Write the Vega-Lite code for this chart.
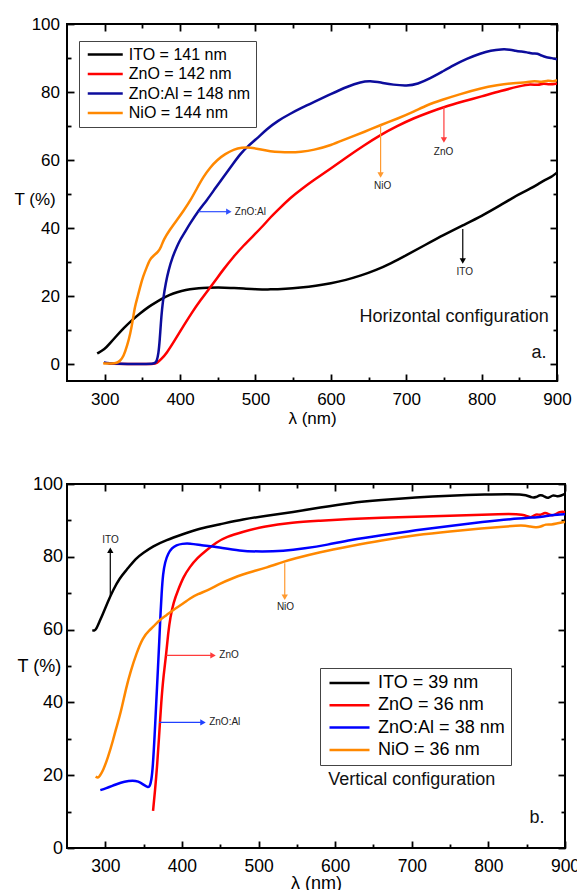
{
  "$schema": "https://vega.github.io/schema/vega-lite/v6.json",
  "padding": {"left": 13, "top": 14, "right": 5, "bottom": 5},
  "spacing": 47,
  "align": "none",
  "config": {
    "font": "Liberation Sans",
    "view": {"stroke": "#000", "strokeWidth": 2},
    "axis": {"grid": false, "domain": false, "tickColor": "#000", "tickWidth": 1.8, "labelColor": "#000", "titleColor": "#000", "labelFont": "Liberation Sans", "titleFont": "Liberation Sans", "titleFontWeight": "normal", "labelOverlap": false, "labelFlush": false}
  },
  "resolve": {"scale": {"color": "independent", "shape": "independent"}, "legend": {"color": "independent"}},
  "datasets": {
    "a": [
      {"m":"ITO","x":290,"y":3.1},{"m":"ITO","x":300,"y":4.3},{"m":"ITO","x":307,"y":6.1},{"m":"ITO","x":315,"y":8.1},{"m":"ITO","x":325,"y":10.5},{"m":"ITO","x":335,"y":12.7},{"m":"ITO","x":347,"y":14.9},{"m":"ITO","x":358,"y":16.8},{"m":"ITO","x":369,"y":18.3},{"m":"ITO","x":380,"y":19.7},{"m":"ITO","x":391,"y":20.8},{"m":"ITO","x":402,"y":21.5},{"m":"ITO","x":413,"y":22},{"m":"ITO","x":425,"y":22.3},{"m":"ITO","x":436,"y":22.4},{"m":"ITO","x":450,"y":22.5},{"m":"ITO","x":467,"y":22.4},{"m":"ITO","x":485,"y":22.2},{"m":"ITO","x":500,"y":22},{"m":"ITO","x":520,"y":21.9},{"m":"ITO","x":540,"y":22.1},{"m":"ITO","x":560,"y":22.5},{"m":"ITO","x":580,"y":23},{"m":"ITO","x":600,"y":23.7},{"m":"ITO","x":620,"y":24.7},{"m":"ITO","x":640,"y":26},{"m":"ITO","x":660,"y":27.6},{"m":"ITO","x":680,"y":29.6},{"m":"ITO","x":700,"y":32},{"m":"ITO","x":725,"y":35},{"m":"ITO","x":750,"y":38},{"m":"ITO","x":775,"y":40.8},{"m":"ITO","x":800,"y":43.5},{"m":"ITO","x":825,"y":46.7},{"m":"ITO","x":850,"y":50},{"m":"ITO","x":865,"y":51.6},{"m":"ITO","x":875,"y":52.9},{"m":"ITO","x":885,"y":54.3},{"m":"ITO","x":892,"y":54.9},{"m":"ITO","x":900,"y":56.3},
      {"m":"ZnO","x":305,"y":0.1},{"m":"ZnO","x":340,"y":0},{"m":"ZnO","x":366,"y":0},{"m":"ZnO","x":369,"y":0.2},{"m":"ZnO","x":375,"y":1.4},{"m":"ZnO","x":382,"y":3.1},{"m":"ZnO","x":393,"y":7},{"m":"ZnO","x":404,"y":11},{"m":"ZnO","x":415,"y":14.9},{"m":"ZnO","x":427,"y":18.8},{"m":"ZnO","x":444,"y":23.7},{"m":"ZnO","x":457,"y":27.7},{"m":"ZnO","x":471,"y":31.6},{"m":"ZnO","x":484,"y":34.8},{"m":"ZnO","x":498,"y":37.9},{"m":"ZnO","x":510,"y":40.6},{"m":"ZnO","x":520,"y":43.2},{"m":"ZnO","x":533,"y":46},{"m":"ZnO","x":546,"y":48.8},{"m":"ZnO","x":560,"y":51.3},{"m":"ZnO","x":580,"y":54.5},{"m":"ZnO","x":600,"y":57.5},{"m":"ZnO","x":622,"y":61},{"m":"ZnO","x":644,"y":64.3},{"m":"ZnO","x":666,"y":67.4},{"m":"ZnO","x":688,"y":70},{"m":"ZnO","x":710,"y":72.3},{"m":"ZnO","x":730,"y":74},{"m":"ZnO","x":750,"y":75.6},{"m":"ZnO","x":775,"y":77.2},{"m":"ZnO","x":800,"y":78.7},{"m":"ZnO","x":825,"y":80.3},{"m":"ZnO","x":852,"y":81.8},{"m":"ZnO","x":865,"y":82.4},{"m":"ZnO","x":875,"y":81.9},{"m":"ZnO","x":882,"y":82.6},{"m":"ZnO","x":890,"y":82.1},{"m":"ZnO","x":900,"y":82.5},
      {"m":"ZnO:Al","x":299,"y":0.5},{"m":"ZnO:Al","x":302,"y":0.3},{"m":"ZnO:Al","x":310,"y":0.1},{"m":"ZnO:Al","x":330,"y":0},{"m":"ZnO:Al","x":350,"y":0},{"m":"ZnO:Al","x":367,"y":0},{"m":"ZnO:Al","x":369,"y":0.8},{"m":"ZnO:Al","x":371.4,"y":3.1},{"m":"ZnO:Al","x":373,"y":7},{"m":"ZnO:Al","x":374.5,"y":12},{"m":"ZnO:Al","x":376,"y":16},{"m":"ZnO:Al","x":378,"y":19.8},{"m":"ZnO:Al","x":381,"y":23.8},{"m":"ZnO:Al","x":384.7,"y":27.6},{"m":"ZnO:Al","x":390,"y":31.5},{"m":"ZnO:Al","x":395.8,"y":34.5},{"m":"ZnO:Al","x":400,"y":36.5},{"m":"ZnO:Al","x":405,"y":38.3},{"m":"ZnO:Al","x":413.5,"y":41.4},{"m":"ZnO:Al","x":424,"y":45},{"m":"ZnO:Al","x":435.7,"y":48.2},{"m":"ZnO:Al","x":447,"y":51.8},{"m":"ZnO:Al","x":457.8,"y":55.1},{"m":"ZnO:Al","x":470,"y":58.8},{"m":"ZnO:Al","x":480,"y":61.8},{"m":"ZnO:Al","x":489,"y":63.9},{"m":"ZnO:Al","x":502,"y":66.3},{"m":"ZnO:Al","x":515,"y":69.1},{"m":"ZnO:Al","x":530,"y":71.6},{"m":"ZnO:Al","x":546,"y":73.6},{"m":"ZnO:Al","x":560,"y":75.2},{"m":"ZnO:Al","x":577,"y":77},{"m":"ZnO:Al","x":600,"y":79.4},{"m":"ZnO:Al","x":622,"y":81.6},{"m":"ZnO:Al","x":640,"y":83},{"m":"ZnO:Al","x":652,"y":83.3},{"m":"ZnO:Al","x":666,"y":82.8},{"m":"ZnO:Al","x":683,"y":82.1},{"m":"ZnO:Al","x":701,"y":81.8},{"m":"ZnO:Al","x":715,"y":82.3},{"m":"ZnO:Al","x":732,"y":84},{"m":"ZnO:Al","x":748,"y":86},{"m":"ZnO:Al","x":763,"y":87.9},{"m":"ZnO:Al","x":780,"y":89.8},{"m":"ZnO:Al","x":799,"y":91.4},{"m":"ZnO:Al","x":812,"y":92.2},{"m":"ZnO:Al","x":826,"y":92.6},{"m":"ZnO:Al","x":838,"y":92.5},{"m":"ZnO:Al","x":845,"y":92.1},{"m":"ZnO:Al","x":852,"y":91.9},{"m":"ZnO:Al","x":860,"y":91.7},{"m":"ZnO:Al","x":868,"y":91.2},{"m":"ZnO:Al","x":874,"y":91.4},{"m":"ZnO:Al","x":880,"y":90.6},{"m":"ZnO:Al","x":886,"y":90.2},{"m":"ZnO:Al","x":893,"y":90},{"m":"ZnO:Al","x":900,"y":89.6},
      {"m":"NiO","x":298,"y":0.2},{"m":"NiO","x":310,"y":0.1},{"m":"NiO","x":316,"y":0.3},{"m":"NiO","x":320,"y":0.8},{"m":"NiO","x":325,"y":2.2},{"m":"NiO","x":330,"y":5.5},{"m":"NiO","x":334,"y":9},{"m":"NiO","x":337,"y":12.5},{"m":"NiO","x":340,"y":16.9},{"m":"NiO","x":344,"y":20},{"m":"NiO","x":347,"y":22.7},{"m":"NiO","x":351,"y":25.8},{"m":"NiO","x":356,"y":28.6},{"m":"NiO","x":360,"y":30.8},{"m":"NiO","x":365,"y":31.9},{"m":"NiO","x":371,"y":33},{"m":"NiO","x":375,"y":34.5},{"m":"NiO","x":378,"y":36.5},{"m":"NiO","x":386,"y":39.4},{"m":"NiO","x":396,"y":42.4},{"m":"NiO","x":405,"y":45.2},{"m":"NiO","x":414,"y":48.2},{"m":"NiO","x":422,"y":51.5},{"m":"NiO","x":431,"y":55.1},{"m":"NiO","x":440,"y":57.8},{"m":"NiO","x":449,"y":60},{"m":"NiO","x":460,"y":61.8},{"m":"NiO","x":471,"y":63.1},{"m":"NiO","x":482,"y":63.7},{"m":"NiO","x":493,"y":63.7},{"m":"NiO","x":505,"y":63.2},{"m":"NiO","x":520,"y":62.5},{"m":"NiO","x":533,"y":62.3},{"m":"NiO","x":546,"y":62.2},{"m":"NiO","x":560,"y":62.4},{"m":"NiO","x":577,"y":62.9},{"m":"NiO","x":600,"y":64.3},{"m":"NiO","x":622,"y":66.4},{"m":"NiO","x":645,"y":68.3},{"m":"NiO","x":666,"y":70.3},{"m":"NiO","x":690,"y":72.3},{"m":"NiO","x":710,"y":74.2},{"m":"NiO","x":728,"y":76.2},{"m":"NiO","x":746,"y":77.6},{"m":"NiO","x":770,"y":79.3},{"m":"NiO","x":799,"y":81.1},{"m":"NiO","x":820,"y":82},{"m":"NiO","x":843,"y":82.7},{"m":"NiO","x":860,"y":82.8},{"m":"NiO","x":870,"y":83.3},{"m":"NiO","x":880,"y":82.8},{"m":"NiO","x":888,"y":83.5},{"m":"NiO","x":895,"y":83},{"m":"NiO","x":900,"y":83.5}
    ],
    "b": [
      {"m":"ITO","x":283,"y":59.8},{"m":"ITO","x":286,"y":59.7},{"m":"ITO","x":288.3,"y":60.2},{"m":"ITO","x":292,"y":62},{"m":"ITO","x":297,"y":64.4},{"m":"ITO","x":303,"y":67.5},{"m":"ITO","x":310,"y":70.8},{"m":"ITO","x":318.8,"y":74.2},{"m":"ITO","x":327.4,"y":76.3},{"m":"ITO","x":340.5,"y":79.7},{"m":"ITO","x":349.2,"y":81},{"m":"ITO","x":362,"y":82.9},{"m":"ITO","x":379.6,"y":84.6},{"m":"ITO","x":401,"y":86.2},{"m":"ITO","x":423,"y":87.8},{"m":"ITO","x":449,"y":88.9},{"m":"ITO","x":480,"y":90.3},{"m":"ITO","x":510,"y":91.3},{"m":"ITO","x":545,"y":92.3},{"m":"ITO","x":580,"y":93.5},{"m":"ITO","x":619,"y":94.8},{"m":"ITO","x":660,"y":95.6},{"m":"ITO","x":705,"y":96.3},{"m":"ITO","x":750,"y":96.8},{"m":"ITO","x":793,"y":97.1},{"m":"ITO","x":849,"y":97.3},{"m":"ITO","x":856,"y":96.2},{"m":"ITO","x":862,"y":96.3},{"m":"ITO","x":868,"y":97.1},{"m":"ITO","x":873,"y":96.6},{"m":"ITO","x":878,"y":95.9},{"m":"ITO","x":884,"y":97.1},{"m":"ITO","x":890,"y":96.5},{"m":"ITO","x":895,"y":96.8},{"m":"ITO","x":900,"y":97.3},
      {"m":"ZnO","x":362.3,"y":10.2},{"m":"ZnO","x":365,"y":16},{"m":"ZnO","x":367.5,"y":22.1},{"m":"ZnO","x":370,"y":30},{"m":"ZnO","x":373.1,"y":40.5},{"m":"ZnO","x":376,"y":47.5},{"m":"ZnO","x":379.6,"y":53.4},{"m":"ZnO","x":382,"y":59},{"m":"ZnO","x":384.9,"y":63.4},{"m":"ZnO","x":389,"y":67.5},{"m":"ZnO","x":394.9,"y":70.8},{"m":"ZnO","x":402,"y":74.5},{"m":"ZnO","x":410.2,"y":77.2},{"m":"ZnO","x":420,"y":79.7},{"m":"ZnO","x":431.9,"y":81.8},{"m":"ZnO","x":445,"y":84},{"m":"ZnO","x":458,"y":85.5},{"m":"ZnO","x":479.8,"y":86.9},{"m":"ZnO","x":505,"y":88.3},{"m":"ZnO","x":545,"y":89.5},{"m":"ZnO","x":580,"y":89.9},{"m":"ZnO","x":619,"y":90.4},{"m":"ZnO","x":660,"y":90.7},{"m":"ZnO","x":705,"y":91},{"m":"ZnO","x":750,"y":91.3},{"m":"ZnO","x":793,"y":91.6},{"m":"ZnO","x":830,"y":91.8},{"m":"ZnO","x":845,"y":91.6},{"m":"ZnO","x":850,"y":91.2},{"m":"ZnO","x":856,"y":90.6},{"m":"ZnO","x":862,"y":91.9},{"m":"ZnO","x":868,"y":91.3},{"m":"ZnO","x":874,"y":92.3},{"m":"ZnO","x":880,"y":91.5},{"m":"ZnO","x":886,"y":91.3},{"m":"ZnO","x":893,"y":92.5},{"m":"ZnO","x":900,"y":92.3},
      {"m":"ZnO:Al","x":293.5,"y":15.9},{"m":"ZnO:Al","x":300,"y":16.3},{"m":"ZnO:Al","x":314.4,"y":17.5},{"m":"ZnO:Al","x":325,"y":18.3},{"m":"ZnO:Al","x":336.2,"y":18.6},{"m":"ZnO:Al","x":343,"y":18.3},{"m":"ZnO:Al","x":349.2,"y":17.5},{"m":"ZnO:Al","x":355.7,"y":16.6},{"m":"ZnO:Al","x":358,"y":16.9},{"m":"ZnO:Al","x":360.1,"y":18.5},{"m":"ZnO:Al","x":362,"y":22},{"m":"ZnO:Al","x":364.5,"y":31.3},{"m":"ZnO:Al","x":366.5,"y":40},{"m":"ZnO:Al","x":368.8,"y":49.7},{"m":"ZnO:Al","x":370.5,"y":57},{"m":"ZnO:Al","x":371.8,"y":63.4},{"m":"ZnO:Al","x":373.5,"y":70},{"m":"ZnO:Al","x":375.3,"y":75.4},{"m":"ZnO:Al","x":378,"y":78.6},{"m":"ZnO:Al","x":381.9,"y":80.9},{"m":"ZnO:Al","x":387,"y":82.4},{"m":"ZnO:Al","x":392.7,"y":83.2},{"m":"ZnO:Al","x":400,"y":83.6},{"m":"ZnO:Al","x":410.2,"y":83.7},{"m":"ZnO:Al","x":425,"y":83.2},{"m":"ZnO:Al","x":445,"y":82.7},{"m":"ZnO:Al","x":475.4,"y":81.6},{"m":"ZnO:Al","x":505,"y":81.4},{"m":"ZnO:Al","x":532,"y":81.6},{"m":"ZnO:Al","x":560,"y":82.3},{"m":"ZnO:Al","x":590,"y":83.3},{"m":"ZnO:Al","x":619,"y":84.6},{"m":"ZnO:Al","x":660,"y":85.9},{"m":"ZnO:Al","x":705.6,"y":87.3},{"m":"ZnO:Al","x":750,"y":88.5},{"m":"ZnO:Al","x":793,"y":89.6},{"m":"ZnO:Al","x":830,"y":90.4},{"m":"ZnO:Al","x":858,"y":90.8},{"m":"ZnO:Al","x":870,"y":91},{"m":"ZnO:Al","x":880,"y":91.4},{"m":"ZnO:Al","x":890,"y":91.6},{"m":"ZnO:Al","x":900,"y":91.7},
      {"m":"NiO","x":287.4,"y":19.6},{"m":"NiO","x":290.5,"y":19.2},{"m":"NiO","x":292.7,"y":19.8},{"m":"NiO","x":297,"y":21.2},{"m":"NiO","x":303.5,"y":24.9},{"m":"NiO","x":310,"y":29.5},{"m":"NiO","x":314.4,"y":33.1},{"m":"NiO","x":320,"y":37},{"m":"NiO","x":327.4,"y":44.2},{"m":"NiO","x":333,"y":48.5},{"m":"NiO","x":340.5,"y":53.4},{"m":"NiO","x":349,"y":57.9},{"m":"NiO","x":358,"y":59.9},{"m":"NiO","x":362.3,"y":60.7},{"m":"NiO","x":370,"y":62.5},{"m":"NiO","x":379.6,"y":63.9},{"m":"NiO","x":390,"y":65.6},{"m":"NiO","x":401.4,"y":67.1},{"m":"NiO","x":410,"y":68.5},{"m":"NiO","x":420,"y":69.7},{"m":"NiO","x":436.3,"y":71},{"m":"NiO","x":449,"y":72.6},{"m":"NiO","x":465,"y":74},{"m":"NiO","x":479.8,"y":75.2},{"m":"NiO","x":492.8,"y":76},{"m":"NiO","x":510,"y":77},{"m":"NiO","x":532,"y":78.6},{"m":"NiO","x":545,"y":79.4},{"m":"NiO","x":580,"y":81.3},{"m":"NiO","x":619,"y":82.9},{"m":"NiO","x":660,"y":84.5},{"m":"NiO","x":705.6,"y":86},{"m":"NiO","x":750,"y":87},{"m":"NiO","x":793,"y":87.8},{"m":"NiO","x":820,"y":88.3},{"m":"NiO","x":845,"y":88.7},{"m":"NiO","x":855,"y":88.3},{"m":"NiO","x":862,"y":88.1},{"m":"NiO","x":868,"y":88.2},{"m":"NiO","x":875,"y":89},{"m":"NiO","x":882,"y":88.8},{"m":"NiO","x":890,"y":89.2},{"m":"NiO","x":900,"y":89.6}
    ],
    "arrA": [
      {"m":"ZnO:Al","x":424.5,"y":44.8,"x2":464.7,"y2":44.8,"d":"right"},
      {"m":"NiO","x":666,"y":70.3,"x2":666,"y2":55.6,"d":"down"},
      {"m":"ZnO","x":750,"y":75.6,"x2":750,"y2":65.9,"d":"down"},
      {"m":"ITO","x":775,"y":39.7,"x2":775,"y2":30.3,"d":"down"}
    ],
    "arrB": [
      {"m":"ITO","x":306.5,"y":69.4,"x2":306.5,"y2":81.8,"d":"up"},
      {"m":"NiO","x":534.2,"y":78.2,"x2":534.2,"y2":68.9,"d":"down"},
      {"m":"ZnO","x":379.6,"y":52.9,"x2":440.6,"y2":52.9,"d":"right"},
      {"m":"ZnO:Al","x":370.1,"y":34.5,"x2":427.5,"y2":34.5,"d":"right"}
    ],
    "lblA": [
      {"t":"ZnO:Al","x":493.3,"y":44.8},
      {"t":"NiO","x":668.7,"y":52.4},
      {"t":"ZnO","x":749.5,"y":62.4},
      {"t":"ITO","x":777.7,"y":27.1}
    ],
    "lblB": [
      {"t":"ITO","x":306.8,"y":84.6},
      {"t":"NiO","x":535.2,"y":66.1},
      {"t":"ZnO","x":461.5,"y":52.9},
      {"t":"ZnO:Al","x":455.9,"y":34.5}
    ],
    "noteA": [
      {"t":"Horizontal configuration","x":763.5,"y":13.8},
      {"t":"a.","x":876,"y":3.3}
    ],
    "noteB": [
      {"t":"Vertical configuration","x":700,"y":18.7},
      {"t":"b.","x":863.6,"y":8.3}
    ]
  },
  "vconcat": [
    {
      "width": 490,
      "height": 357,
      "resolve": {"axis": {"x": "independent", "y": "independent"}, "scale": {"color": "independent", "shape": "independent"}, "legend": {"color": "independent"}},
      "layer": [
        {
          "data": {"name": "a"},
          "mark": {"type": "line", "strokeWidth": 2.5, "interpolate": "basis", "clip": true},
          "encoding": {
            "x": {"field": "x", "type": "quantitative", "scale": {"domain": [250, 900], "nice": false, "zero": false},
              "axis": {"orient": "bottom", "values": [300,400,500,600,700,800,900], "title": "λ (nm)", "ticks": false, "labelFontSize": 17, "labelPadding": 10, "titleFontSize": 17, "titlePadding": 3}},
            "y": {"field": "y", "type": "quantitative", "scale": {"domain": [-5, 100], "nice": false, "zero": false},
              "axis": {"orient": "left", "values": [0,20,40,60,80,100], "title": "T (%)", "ticks": false, "labelFontSize": 17, "labelPadding": 7.5, "titleFontSize": 17, "titleAngle": 0, "titleAlign": "left", "titleBaseline": "middle", "titleX": -53, "titleY": 175}},
            "color": {"field": "m", "type": "nominal",
              "scale": {"domain": ["ITO", "ZnO", "ZnO:Al", "NiO"], "range": ["#000000", "#ff0000", "#0c0c9c", "#ff8800"]},
              "legend": {"orient": "none", "legendX": 12, "legendY": 17, "title": null, "labelExpr": "datum.label == 'ITO' ? 'ITO = 141 nm' : datum.label == 'ZnO' ? 'ZnO = 142 nm' : datum.label == 'ZnO:Al' ? 'ZnO:Al = 148 nm' : 'NiO = 144 nm'", "symbolType": "M-0.95,0H6.05", "symbolSize": 100, "symbolStrokeWidth": 2.5, "labelFont": "Liberation Sans", "labelFontSize": 16, "labelColor": "#000", "strokeColor": "#444", "fillColor": "white", "padding": 5.5, "rowPadding": 3.5, "labelOffset": 28.3, "labelLimit": 300}}
          }
        },
        {
          "data": {"name": "arrA"},
          "mark": {"type": "rule", "strokeWidth": 1.2},
          "encoding": {
            "x": {"field": "x", "type": "quantitative", "scale": {"domain": [250, 900], "nice": false, "zero": false},
              "axis": {"orient": "bottom", "values": [300,400,500,600,700,800,900], "title": null, "labels": false, "tickSize": 7, "offset": -7}},
            "x2": {"field": "x2"},
            "y": {"field": "y", "type": "quantitative", "scale": {"domain": [-5, 100], "nice": false, "zero": false},
              "axis": {"orient": "left", "values": [0,20,40,60,80,100], "title": null, "labels": false, "tickSize": 7, "offset": -7}},
            "y2": {"field": "y2"},
            "color": {"field": "m", "type": "nominal", "scale": {"domain": ["ITO", "ZnO", "ZnO:Al", "NiO"], "range": ["#000000", "#ff3b3b", "#3050ff", "#ff9a30"]}, "legend": null}
          }
        },
        {
          "data": {"name": "arrA"},
          "mark": {"type": "point", "filled": true, "size": 40, "opacity": 1},
          "encoding": {
            "x": {"field": "x2", "type": "quantitative", "scale": {"domain": [250, 900], "nice": false, "zero": false},
              "axis": {"orient": "bottom", "values": [350,450,550,650,750,850], "title": null, "labels": false, "tickSize": 4, "offset": -4}},
            "y": {"field": "y2", "type": "quantitative", "scale": {"domain": [-5, 100], "nice": false, "zero": false},
              "axis": {"orient": "left", "values": [10,30,50,70,90], "title": null, "labels": false, "tickSize": 4, "offset": -4}},
            "shape": {"field": "d", "type": "nominal", "scale": {"domain": ["down", "up", "right"], "range": ["triangle-down", "triangle-up", "triangle-right"]}, "legend": null},
            "color": {"field": "m", "type": "nominal", "scale": {"domain": ["ITO", "ZnO", "ZnO:Al", "NiO"], "range": ["#000000", "#ff3b3b", "#3050ff", "#ff9a30"]}, "legend": null}
          }
        },
        {
          "data": {"name": "lblA"},
          "mark": {"type": "text", "fontSize": 10, "color": "#222", "align": "center", "baseline": "middle"},
          "encoding": {
            "x": {"field": "x", "type": "quantitative", "scale": {"domain": [250, 900], "nice": false, "zero": false},
              "axis": {"orient": "top", "values": [300,400,500,600,700,800,900], "title": null, "labels": false, "tickSize": 7, "offset": -7}},
            "y": {"field": "y", "type": "quantitative", "scale": {"domain": [-5, 100], "nice": false, "zero": false},
              "axis": {"orient": "right", "values": [0,20,40,60,80,100], "title": null, "labels": false, "tickSize": 7, "offset": -7}},
            "text": {"field": "t"}
          }
        },
        {
          "data": {"name": "noteA"},
          "mark": {"type": "text", "fontSize": 18, "color": "#111", "align": "center", "baseline": "middle"},
          "encoding": {
            "x": {"field": "x", "type": "quantitative", "scale": {"domain": [250, 900], "nice": false, "zero": false},
              "axis": {"orient": "top", "values": [350,450,550,650,750,850], "title": null, "labels": false, "tickSize": 4, "offset": -4}},
            "y": {"field": "y", "type": "quantitative", "scale": {"domain": [-5, 100], "nice": false, "zero": false},
              "axis": {"orient": "right", "values": [10,30,50,70,90], "title": null, "labels": false, "tickSize": 4, "offset": -4}},
            "text": {"field": "t"}
          }
        }
      ]
    },
    {
      "width": 498,
      "height": 364,
      "resolve": {"axis": {"x": "independent", "y": "independent"}, "scale": {"color": "independent", "shape": "independent"}, "legend": {"color": "independent"}},
      "layer": [
        {
          "data": {"name": "b"},
          "mark": {"type": "line", "strokeWidth": 2.5, "interpolate": "basis", "clip": true},
          "encoding": {
            "x": {"field": "x", "type": "quantitative", "scale": {"domain": [250, 900], "nice": false, "zero": false},
              "axis": {"orient": "bottom", "values": [300,400,500,600,700,800,900], "title": "λ (nm)", "ticks": false, "labelFontSize": 17.5, "labelPadding": 9, "titleFontSize": 18, "titlePadding": 0}},
            "y": {"field": "y", "type": "quantitative", "scale": {"domain": [0, 100], "nice": false, "zero": false},
              "axis": {"orient": "left", "values": [0,20,40,60,80,100], "title": "T (%)", "ticks": false, "labelFontSize": 18, "labelPadding": 4.5, "titleFontSize": 18, "titleAngle": 0, "titleAlign": "left", "titleBaseline": "middle", "titleX": -50, "titleY": 182.5}},
            "color": {"field": "m", "type": "nominal",
              "scale": {"domain": ["ITO", "ZnO", "ZnO:Al", "NiO"], "range": ["#000000", "#ff0000", "#0000ff", "#ff8800"]},
              "legend": {"orient": "none", "legendX": 253, "legendY": 184, "title": null, "labelExpr": "datum.label == 'ITO' ? 'ITO = 39 nm' : datum.label == 'ZnO' ? 'ZnO = 36 nm' : datum.label == 'ZnO:Al' ? 'ZnO:Al = 38 nm' : 'NiO = 36 nm'", "symbolType": "M-1.1,0H6.9", "symbolSize": 100, "symbolStrokeWidth": 2.5, "labelFont": "Liberation Sans", "labelFontSize": 18, "labelColor": "#000", "strokeColor": "#444", "fillColor": "white", "padding": 6, "rowPadding": 4.3, "labelOffset": 34.1, "labelLimit": 300}}
          }
        },
        {
          "data": {"name": "arrB"},
          "mark": {"type": "rule", "strokeWidth": 1.2},
          "encoding": {
            "x": {"field": "x", "type": "quantitative", "scale": {"domain": [250, 900], "nice": false, "zero": false},
              "axis": {"orient": "bottom", "values": [300,400,500,600,700,800,900], "title": null, "labels": false, "tickSize": 7, "offset": -7}},
            "x2": {"field": "x2"},
            "y": {"field": "y", "type": "quantitative", "scale": {"domain": [0, 100], "nice": false, "zero": false},
              "axis": {"orient": "left", "values": [0,20,40,60,80,100], "title": null, "labels": false, "tickSize": 7, "offset": -7}},
            "y2": {"field": "y2"},
            "color": {"field": "m", "type": "nominal", "scale": {"domain": ["ITO", "ZnO", "ZnO:Al", "NiO"], "range": ["#000000", "#ff3b3b", "#2040ff", "#ff9a30"]}, "legend": null}
          }
        },
        {
          "data": {"name": "arrB"},
          "mark": {"type": "point", "filled": true, "size": 40, "opacity": 1},
          "encoding": {
            "x": {"field": "x2", "type": "quantitative", "scale": {"domain": [250, 900], "nice": false, "zero": false},
              "axis": {"orient": "bottom", "values": [350,450,550,650,750,850], "title": null, "labels": false, "tickSize": 4, "offset": -4}},
            "y": {"field": "y2", "type": "quantitative", "scale": {"domain": [0, 100], "nice": false, "zero": false},
              "axis": {"orient": "left", "values": [10,30,50,70,90], "title": null, "labels": false, "tickSize": 4, "offset": -4}},
            "shape": {"field": "d", "type": "nominal", "scale": {"domain": ["down", "up", "right"], "range": ["triangle-down", "triangle-up", "triangle-right"]}, "legend": null},
            "color": {"field": "m", "type": "nominal", "scale": {"domain": ["ITO", "ZnO", "ZnO:Al", "NiO"], "range": ["#000000", "#ff3b3b", "#2040ff", "#ff9a30"]}, "legend": null}
          }
        },
        {
          "data": {"name": "lblB"},
          "mark": {"type": "text", "fontSize": 10, "color": "#222", "align": "center", "baseline": "middle"},
          "encoding": {
            "x": {"field": "x", "type": "quantitative", "scale": {"domain": [250, 900], "nice": false, "zero": false},
              "axis": {"orient": "top", "values": [300,400,500,600,700,800,900], "title": null, "labels": false, "tickSize": 7, "offset": -7}},
            "y": {"field": "y", "type": "quantitative", "scale": {"domain": [0, 100], "nice": false, "zero": false},
              "axis": {"orient": "right", "values": [0,20,40,60,80,100], "title": null, "labels": false, "tickSize": 7, "offset": -7}},
            "text": {"field": "t"}
          }
        },
        {
          "data": {"name": "noteB"},
          "mark": {"type": "text", "fontSize": 18, "color": "#111", "align": "center", "baseline": "middle"},
          "encoding": {
            "x": {"field": "x", "type": "quantitative", "scale": {"domain": [250, 900], "nice": false, "zero": false},
              "axis": {"orient": "top", "values": [350,450,550,650,750,850], "title": null, "labels": false, "tickSize": 4, "offset": -4}},
            "y": {"field": "y", "type": "quantitative", "scale": {"domain": [0, 100], "nice": false, "zero": false},
              "axis": {"orient": "right", "values": [10,30,50,70,90], "title": null, "labels": false, "tickSize": 4, "offset": -4}},
            "text": {"field": "t"}
          }
        }
      ]
    }
  ]
}
